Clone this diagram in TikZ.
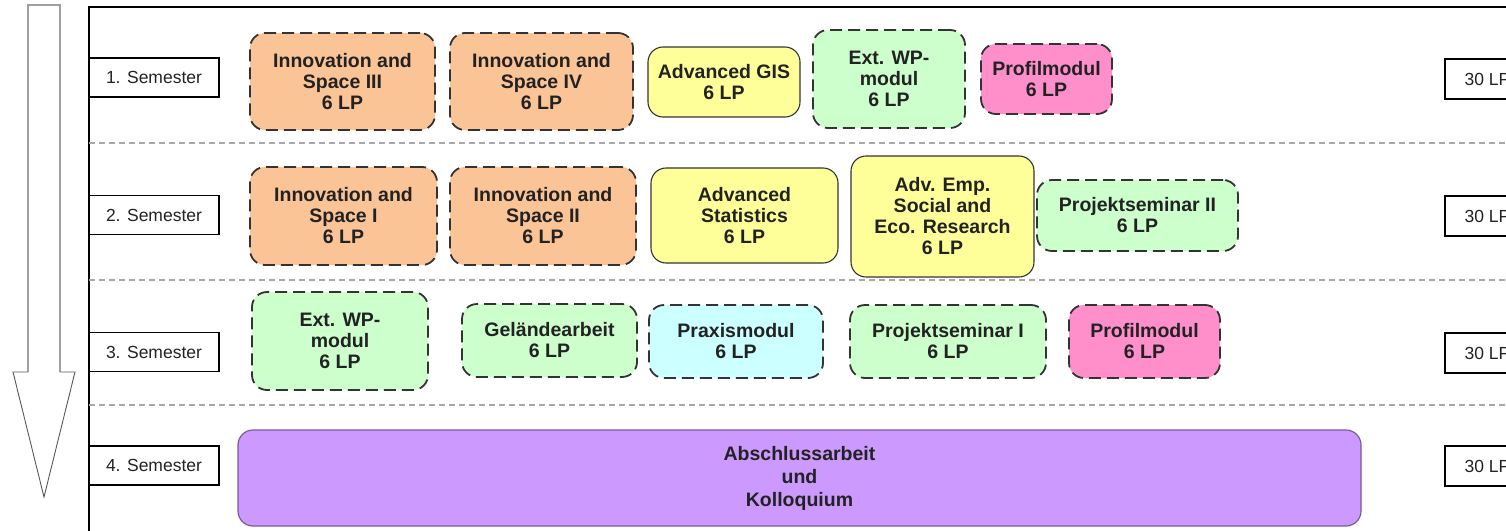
\documentclass[tikz,border=0pt]{standalone}
\usepackage{fontspec}
\setmainfont{Liberation Sans}
\definecolor{orng}{HTML}{FBC497}
\definecolor{yel}{HTML}{FFFF99}
\definecolor{grn}{HTML}{CCFFCC}
\definecolor{pnk}{HTML}{FF8FCB}
\definecolor{cyn}{HTML}{CCFFFF}
\definecolor{purp}{HTML}{CC99FF}
\definecolor{purpline}{HTML}{7A5A9A}
\definecolor{txt}{HTML}{222222}
\definecolor{sepgray}{HTML}{A8A8A8}
\definecolor{arrgray}{HTML}{A0A0A0}
\begin{document}
\begin{tikzpicture}[x=1pt,y=-1pt,
  modbox/.style={rounded corners=15pt, inner sep=0pt, align=center, text=txt,
    font=\fontsize{19.5}{21}\selectfont\bfseries},
  dashbox/.style={modbox, draw=black!80, line width=1.8pt, dash pattern=on 12pt off 6pt},
  solidbox/.style={modbox, draw=black!80, line width=1.1pt},
  lblbox/.style={draw=black, line width=1.3pt, inner sep=0pt, text=txt,
    font=\fontsize{17.5}{20}\selectfont},
  sepline/.style={draw=sepgray, line width=1.3pt, dash pattern=on 6pt off 4pt}]
\useasboundingbox (0,0) rectangle (1506,530);
\clip (0,0) rectangle (1506,530);

% arrow
\draw[arrgray, line width=2.2pt] (28,372) -- (28,5) -- (60,5) -- (60,372);
\draw[black!65, line width=0.9pt] (28,372) -- (13,372) -- (44,497) -- (75,372) -- (60,372);

% frame
\draw[black, line width=1.5pt] (89,540) -- (89,7) -- (1520,7);

% separators
\coordinate (s1a) at (89,143); \coordinate (s1b) at (1506,143);
\coordinate (s2a) at (89,280); \coordinate (s2b) at (1506,280);
\coordinate (s3a) at (89,405); \coordinate (s3b) at (1506,405);
\draw[sepline] (s1a) -- (s1b);
\draw[sepline] (s2a) -- (s2b);
\draw[sepline] (s3a) -- (s3b);

% semester labels
\node[lblbox, minimum width=130pt, minimum height=39pt] (sem1) at (154,77.5) {1. Semester};
\node[lblbox, minimum width=130pt, minimum height=39pt] (sem2) at (154,215) {2. Semester};
\node[lblbox, minimum width=130pt, minimum height=39pt] (sem3) at (154,352) {3. Semester};
\node[lblbox, minimum width=130pt, minimum height=39pt] (sem4) at (154,465.5) {4. Semester};

% LP labels
\node[lblbox, minimum width=85pt, minimum height=40pt] (lp1) at (1487.5,79) {30 LP};
\node[lblbox, minimum width=85pt, minimum height=40pt] (lp2) at (1487.5,216) {30 LP};
\node[lblbox, minimum width=85pt, minimum height=40pt] (lp3) at (1487.5,353) {30 LP};
\node[lblbox, minimum width=85pt, minimum height=40pt] (lp4) at (1487.5,466) {30 LP};

% row 1
\node[dashbox, fill=orng, minimum width=185pt, minimum height=97pt] (i3) at (342.5,81.5) {Innovation and\\Space III\\6 LP};
\node[dashbox, fill=orng, minimum width=183pt, minimum height=97pt] (i4) at (541.5,81.5) {Innovation and\\Space IV\\6 LP};
\node[solidbox, fill=yel, minimum width=152pt, minimum height=70pt] (gis) at (724,82) {Advanced GIS\\6 LP};
\node[dashbox, fill=grn, minimum width=152pt, minimum height=98pt] (wp1) at (889,79) {Ext. WP-\\modul\\6 LP};
\node[dashbox, fill=pnk, minimum width=131pt, minimum height=70pt] (pr1) at (1046.5,79) {Profilmodul\\6 LP};

% row 2
\node[dashbox, fill=orng, minimum width=187pt, minimum height=98pt] (i1) at (343.5,216) {Innovation and\\Space I\\6 LP};
\node[dashbox, fill=orng, minimum width=186pt, minimum height=98pt] (i2) at (543,216) {Innovation and\\Space II\\6 LP};
\node[solidbox, fill=yel, minimum width=187pt, minimum height=95pt] (stat) at (744.5,215.5) {Advanced\\Statistics\\6 LP};
\node[solidbox, fill=yel, minimum width=183pt, minimum height=121pt] (emp) at (942.5,216.5) {Adv. Emp.\\Social and\\Eco. Research\\6 LP};
\node[dashbox, fill=grn, minimum width=201pt, minimum height=71pt] (pj2) at (1137.5,215.5) {Projektseminar II\\6 LP};

% row 3
\node[dashbox, fill=grn, minimum width=176pt, minimum height=98pt] (wp3) at (340,341) {Ext. WP-\\modul\\6 LP};
\node[dashbox, fill=grn, minimum width=175pt, minimum height=73pt] (gel) at (549.5,340.5) {Geländearbeit\\6 LP};
\node[dashbox, fill=cyn, minimum width=174pt, minimum height=73pt] (prx) at (736,341.5) {Praxismodul\\6 LP};
\node[dashbox, fill=grn, minimum width=196pt, minimum height=73pt] (pj1) at (948,341.5) {Projektseminar I\\6 LP};
\node[dashbox, fill=pnk, minimum width=151pt, minimum height=73pt] (pr3) at (1144.5,341.5) {Profilmodul\\6 LP};

% row 4
\node[modbox, draw=purpline, line width=1.2pt, fill=purp, minimum width=1123pt, minimum height=96pt,
  font=\fontsize{19.5}{23}\selectfont\bfseries] (abs) at (799.5,478) {Abschlussarbeit\\und\\Kolloquium};
\end{tikzpicture}
\end{document}
